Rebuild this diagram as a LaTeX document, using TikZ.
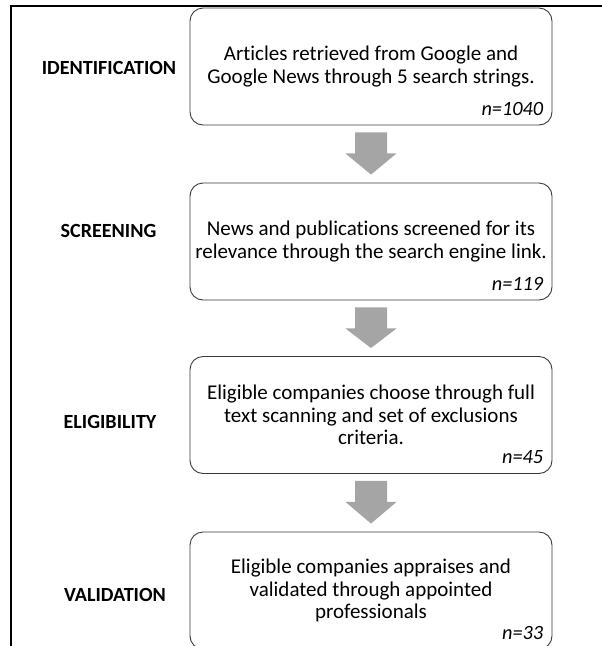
\documentclass[tikz,border=0pt]{standalone}
\usepackage{fontspec}
\setmainfont{Carlito}[Ligatures=NoCommon]
\usetikzlibrary{calc}
\definecolor{arrowgray}{HTML}{A5A5A5}
\definecolor{boxline}{HTML}{3A3A3A}
\begin{document}
\begin{tikzpicture}[x=1pt,y=1pt,
  stagebox/.style={draw=boxline, line width=0.9pt, rounded corners=13pt,
    minimum width=362pt, minimum height=117pt, align=center, inner sep=0pt,
    font=\fontsize{21}{22.3}\selectfont},
  stagelabel/.style={font=\bfseries\fontsize{20.1}{22}\selectfont, inner sep=0pt},
  countlabel/.style={font=\itshape\fontsize{20.3}{22}\selectfont, anchor=base east, inner sep=0pt},
  frameline/.style={line width=2pt, black},
  flowarrow/.style={fill=arrowgray}
]
\useasboundingbox (0,0) rectangle (602,-646);
\draw[frameline] (11,-646) -- (11,-6) -- (602,-6);

\node[stagebox] (b1) at (371,-66.5) {Articles retrieved from Google and\\Google News through 5 search strings.};
\node[stagebox] (b2) at (371,-241.5) {News and publications screened for its\\relevance through the search engine link.};
\node[stagebox] (b3) at (371,-415) {Eligible companies choose through full\\text scanning and set of exclusions\\criteria.};
\node[stagebox] (b4) at (371,-590.5) {Eligible companies appraises and\\validated through appointed\\professionals};

\node[countlabel] (n1) at ($(b1.south east)+(-9,10)$) {n=1040};
\node[countlabel] (n2) at ($(b2.south east)+(-9,10)$) {n=119};
\node[countlabel] (n3) at ($(b3.south east)+(-9,10)$) {n=45};
\node[countlabel] (n4) at ($(b4.south east)+(-9,10)$) {n=33};

\node[stagelabel] (l1) at (109,-68) {IDENTIFICATION};
\node[stagelabel] (l2) at (108.5,-231) {SCREENING};
\node[stagelabel] (l3) at (110,-422) {ELIGIBILITY};
\node[stagelabel] (l4) at (115,-595) {VALIDATION};

\foreach \a/\b in {b1/b2,b2/b3,b3/b4}{
  \fill[flowarrow] ($(\a.south)+(-16,-7)$) -- ($(\a.south)+(16,-7)$)
    -- ($(\a.south)+(16,-28)$) -- ($(\a.south)+(25.5,-28)$)
    -- ($(\b.north)+(0,8)$)
    -- ($(\a.south)+(-25.5,-28)$) -- ($(\a.south)+(-16,-28)$) -- cycle;
}
\end{tikzpicture}
\end{document}
